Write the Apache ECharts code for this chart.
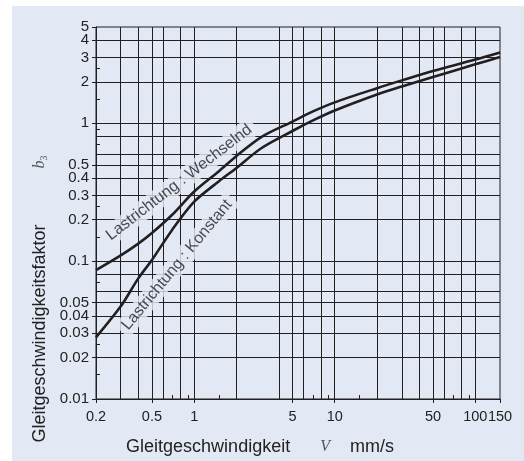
<!DOCTYPE html>
<html><head><meta charset="utf-8">
<script src="https://cdn.jsdelivr.net/npm/echarts@6/dist/echarts.min.js"></script>
<style>
html,body{margin:0;padding:0;background:#fff;width:524px;height:461px;overflow:hidden}
#chart{position:absolute;left:12px;top:6px;width:512px;height:455px;background:#e3e9f4}
</style></head><body><div id="chart"></div>
<script>
const speed = [0.2, 0.3, 0.4, 0.5, 0.7, 1, 1.5, 2, 3, 5, 7, 10, 20, 30, 50, 100, 150];
const factorWechselnd = [0.086, 0.11, 0.134, 0.16, 0.218, 0.32, 0.45, 0.58, 0.795, 1.03, 1.22, 1.42, 1.80, 2.05, 2.40, 2.90, 3.27];
const factorKonstant = [0.028, 0.047, 0.075, 0.102, 0.17, 0.27, 0.38, 0.475, 0.66, 0.88, 1.05, 1.24, 1.62, 1.85, 2.17, 2.68, 3.03];
const xTickLabels = [0.2, 0.5, 1, 5, 10, 50, 100, 150];
const yTickLabels = [0.01, 0.02, 0.03, 0.04, 0.05, 0.1, 0.2, 0.3, 0.4, 0.5, 1, 2, 3, 4, 5];
const xGridValues = [0.3, 0.4, 0.5, 0.6, 0.8, 1, 2, 4, 5, 6, 8, 10, 20, 30, 40, 50, 60, 80, 100];
const yGridValues = [0.02, 0.03, 0.04, 0.05, 0.06, 0.08, 0.1, 0.2, 0.3, 0.4, 0.5, 0.6, 0.8, 1, 2, 3, 4];
const xMinorTicks = [0.7, 0.9, 1.5, 7, 9, 15, 70, 90];
const yMinorTicks = [0.015, 0.025, 0.07, 0.15, 0.25, 0.7, 0.9, 1.5, 2.5];
const curveLabelW = 'Lastrichtung : Wechselnd';
const curveLabelWAt = [0.78, 0.372];
const curveLabelK = 'Lastrichtung : Konstant';
const curveLabelKAt = [0.755, 0.094];

const X_MIN = 0.2, X_MAX = 150, Y_MIN = 0.01, Y_MAX = 5;
const FONT = '"Liberation Sans", Arial, Helvetica, sans-serif';
const SERIF = '"Liberation Serif", "DejaVu Serif", serif';
const INK = '#231f20';
const BG = '#e3e9f4';
const fmt = v => String(+(+v).toPrecision(3));
// keep end values a hair inside the log extent so float rounding does not drop them
const inside = (vals, lo, hi) => vals.map(v => Math.min(Math.max(v, lo * (1 + 1e-7)), hi * (1 - 1e-7)));

// the top y label sits very close to its neighbour; it is drawn by a second axis so neither gets hidden
const yLabelsMain = yTickLabels.slice(0, -1);
const yLabelsTop = yTickLabels.slice(-1);

const chart = echarts.init(document.getElementById('chart'), null, {renderer: 'canvas'});

const baseX = {type: 'log', logBase: 10, min: X_MIN, max: X_MAX, gridIndex: 0};
const baseY = {type: 'log', logBase: 10, min: Y_MIN, max: Y_MAX, gridIndex: 0};
const yLabelStyle = {show: true, showMinLabel: true, showMaxLabel: true, hideOverlap: false, formatter: fmt, margin: 7, color: '#222', fontSize: 15, fontFamily: FONT};

chart.setOption({
  animation: false,
  backgroundColor: 'transparent',
  grid: {left: 84, right: 24, top: 21, bottom: 57, show: true, borderColor: INK, borderWidth: 1, backgroundColor: 'transparent'},
  xAxis: [
    Object.assign({}, baseX, {
      position: 'bottom',
      axisLine: {show: true, lineStyle: {color: INK, width: 1}},
      axisTick: {show: true, inside: false, length: 4, customValues: inside(xTickLabels, X_MIN, X_MAX), lineStyle: {color: INK}},
      axisLabel: {show: true, showMinLabel: true, showMaxLabel: true, hideOverlap: false, customValues: inside(xTickLabels, X_MIN, X_MAX), formatter: fmt, margin: 10, color: '#222', fontSize: 14.5, fontFamily: FONT},
      splitLine: {show: false},
      name: '{a|Gleitgeschwindigkeit}{g1|}{v|V}{g2|}{a|mm/s}',
      nameLocation: 'middle',
      nameGap: 39,
      nameTextStyle: {
        padding: [0, 76, 0, 0],
        rich: {
          a: {fontSize: 18, fontFamily: FONT, color: '#222'},
          g1: {width: 30},
          g2: {width: 20},
          v: {fontSize: 16, fontFamily: SERIF, fontStyle: 'italic', color: '#555'}
        }
      }
    }),
    Object.assign({}, baseX, {
      position: 'bottom',
      axisLine: {show: false},
      axisTick: {show: true, inside: true, length: 4, customValues: xMinorTicks, lineStyle: {color: INK}},
      axisLabel: {show: false},
      splitLine: {show: false}
    })
  ],
  yAxis: [
    Object.assign({}, baseY, {
      position: 'left',
      axisLine: {show: true, lineStyle: {color: INK, width: 1}},
      axisTick: {show: true, inside: false, length: 4, customValues: inside(yTickLabels, Y_MIN, Y_MAX), lineStyle: {color: INK}},
      axisLabel: Object.assign({}, yLabelStyle, {customValues: inside(yLabelsMain, Y_MIN, Y_MAX)}),
      splitLine: {show: false},
      name: '{a|Gleitgeschwindigkeitsfaktor}{g|}{b|b}{s|3}',
      nameLocation: 'middle',
      nameRotate: 90,
      nameGap: 44,
      nameTextStyle: {
        padding: [0, 172, 0, 0],
        rich: {
          a: {fontSize: 18, fontFamily: FONT, color: '#222'},
          g: {width: 56},
          b: {fontSize: 16, fontFamily: SERIF, fontStyle: 'italic', color: '#555'},
          s: {fontSize: 10, fontFamily: SERIF, color: '#555', verticalAlign: 'bottom', padding: [6, 0, 0, 0]}
        }
      }
    }),
    Object.assign({}, baseY, {
      position: 'left',
      axisLine: {show: false},
      axisTick: {show: true, inside: true, length: 4, customValues: yMinorTicks, lineStyle: {color: INK}},
      axisLabel: Object.assign({}, yLabelStyle, {customValues: inside(yLabelsTop, Y_MIN, Y_MAX)}),
      splitLine: {show: false}
    })
  ],
  series: [
    {
      name: 'grid', type: 'line', xAxisIndex: 0, yAxisIndex: 0, data: [], z: 1, silent: true,
      markLine: {
        z: 1, silent: true, symbol: 'none', animation: false,
        label: {show: false},
        lineStyle: {type: 'solid', color: INK, width: 1},
        emphasis: {disabled: true},
        data: xGridValues.map(v => ({xAxis: v})).concat(yGridValues.map(v => ({yAxis: v})))
      }
    },
    {
      name: 'labels', type: 'scatter', xAxisIndex: 0, yAxisIndex: 0, z: 2, silent: true, symbolSize: 0,
      data: [
        {value: curveLabelWAt, label: {formatter: curveLabelW, rotate: 37.6}},
        {value: curveLabelKAt, label: {formatter: curveLabelK, rotate: 50.4}}
      ],
      label: {show: true, position: 'inside', fontSize: 16, fontFamily: FONT, color: '#222', backgroundColor: BG, padding: [2, 5]}
    },
    {
      name: 'Wechselnd', type: 'line', xAxisIndex: 0, yAxisIndex: 0, z: 3, smooth: 0.3, showSymbol: false, silent: true,
      lineStyle: {color: INK, width: 2.6},
      data: speed.map((x, i) => [x, factorWechselnd[i]])
    },
    {
      name: 'Konstant', type: 'line', xAxisIndex: 0, yAxisIndex: 0, z: 3, smooth: 0.3, showSymbol: false, silent: true,
      lineStyle: {color: INK, width: 2.6},
      data: speed.map((x, i) => [x, factorKonstant[i]])
    }
  ]
});
</script></body></html>
